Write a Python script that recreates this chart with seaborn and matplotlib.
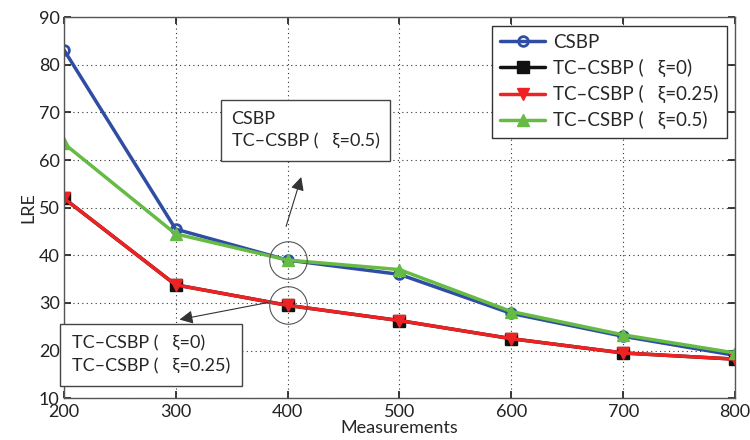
import matplotlib
matplotlib.use("Agg")
import matplotlib.pyplot as plt
import seaborn as sns
import pandas as pd

measurements = [200, 300, 400, 500, 600, 700, 800]
csbp = [83.2, 45.5, 39.0, 36.0, 27.8, 23.0, 19.0]
tc_xi0 = [52.0, 33.8, 29.5, 26.3, 22.5, 19.5, 18.2]
tc_xi025 = [52.0, 33.8, 29.5, 26.3, 22.5, 19.5, 18.2]
tc_xi05 = [63.5, 44.5, 39.0, 37.0, 28.2, 23.3, 19.5]

labels = ["CSBP", "TC\u2013CSBP (   \u03be=0)", "TC\u2013CSBP (   \u03be=0.25)", "TC\u2013CSBP (   \u03be=0.5)"]
series = [csbp, tc_xi0, tc_xi025, tc_xi05]
colors = ["#2f4ea3", "#111111", "#ee2222", "#66bb44"]
markers = ["o", "s", "v", "^"]

df = pd.concat([pd.DataFrame({"Measurements": measurements, "LRE": s, "method": l})
                for s, l in zip(series, labels)])

sns.set_theme(style="ticks")
plt.rcParams["font.family"] = ["Lato", "DejaVu Sans"]

fig = plt.figure(figsize=(7.5, 4.4), dpi=100)
ax = fig.add_axes([0.085, 0.095, 0.895, 0.866])

for lab, col, mk in zip(labels, colors, markers):
    sub = df[df["method"] == lab]
    if mk == "o":
        kw = dict(markerfacecolor="none", markeredgewidth=2, markersize=7)
    else:
        kw = dict(markerfacecolor=col, markeredgewidth=1, markersize=8)
    sns.lineplot(data=sub, x="Measurements", y="LRE", ax=ax, color=col, marker=mk,
                 markeredgecolor=col, linewidth=2.5, label=lab, **kw)

ax.set_xlim(200, 800)
ax.set_ylim(10, 90)
ax.set_xticks(measurements)
ax.set_yticks(range(10, 91, 10))
ax.grid(True, linestyle=(0, (1, 3)), color="#333333", linewidth=0.8)
ax.tick_params(direction="in", labelsize=13, length=5, top=True, right=True, colors="#222222")
ax.tick_params(axis="x", pad=4)
ax.tick_params(axis="y", pad=3)
for sp in ax.spines.values():
    sp.set_color("#555555")
    sp.set_linewidth(1)
ax.set_xlabel("Measurements", fontsize=13, labelpad=0)
ax.set_ylabel("LRE", fontsize=13, labelpad=2)

leg = ax.legend(loc="upper right", fontsize=13.5, frameon=True, fancybox=False,
                edgecolor="#333333", framealpha=1, handlelength=2.4, handletextpad=0.4,
                borderaxespad=0.45, labelspacing=0.42, borderpad=0.45)
leg.get_frame().set_linewidth(1)

# highlight circles at 400
ax.plot([400], [csbp[2]], marker="o", markersize=27, markerfacecolor="none",
        markeredgecolor="#555555", markeredgewidth=0.8, linestyle="none")
ax.plot([400], [tc_xi025[2]], marker="o", markersize=27, markerfacecolor="none",
        markeredgecolor="#555555", markeredgewidth=0.8, linestyle="none")

ax.annotate("", xy=(413, 57.0), xytext=(398, 45.5),
            arrowprops=dict(arrowstyle="-|>", color="#333333", lw=0.8, mutation_scale=20))
ax.annotate("", xy=(301, 26.4), xytext=(385, 30.2),
            arrowprops=dict(arrowstyle="-|>", color="#333333", lw=0.8, mutation_scale=20))

ax.text(350, 70.3, "CSBP\nTC\u2013CSBP (   \u03be=0.5)", fontsize=13, va="top", ha="left",
        linespacing=1.5,
        bbox=dict(boxstyle="square,pad=0.6", facecolor="white", edgecolor="#444444", lw=1))
ax.text(207, 23.2, "TC\u2013CSBP (   \u03be=0)\nTC\u2013CSBP (   \u03be=0.25)", fontsize=13,
        va="top", ha="left", linespacing=1.5,
        bbox=dict(boxstyle="square,pad=0.65", facecolor="white", edgecolor="#444444", lw=1))

fig.savefig("out.png", dpi=100)
